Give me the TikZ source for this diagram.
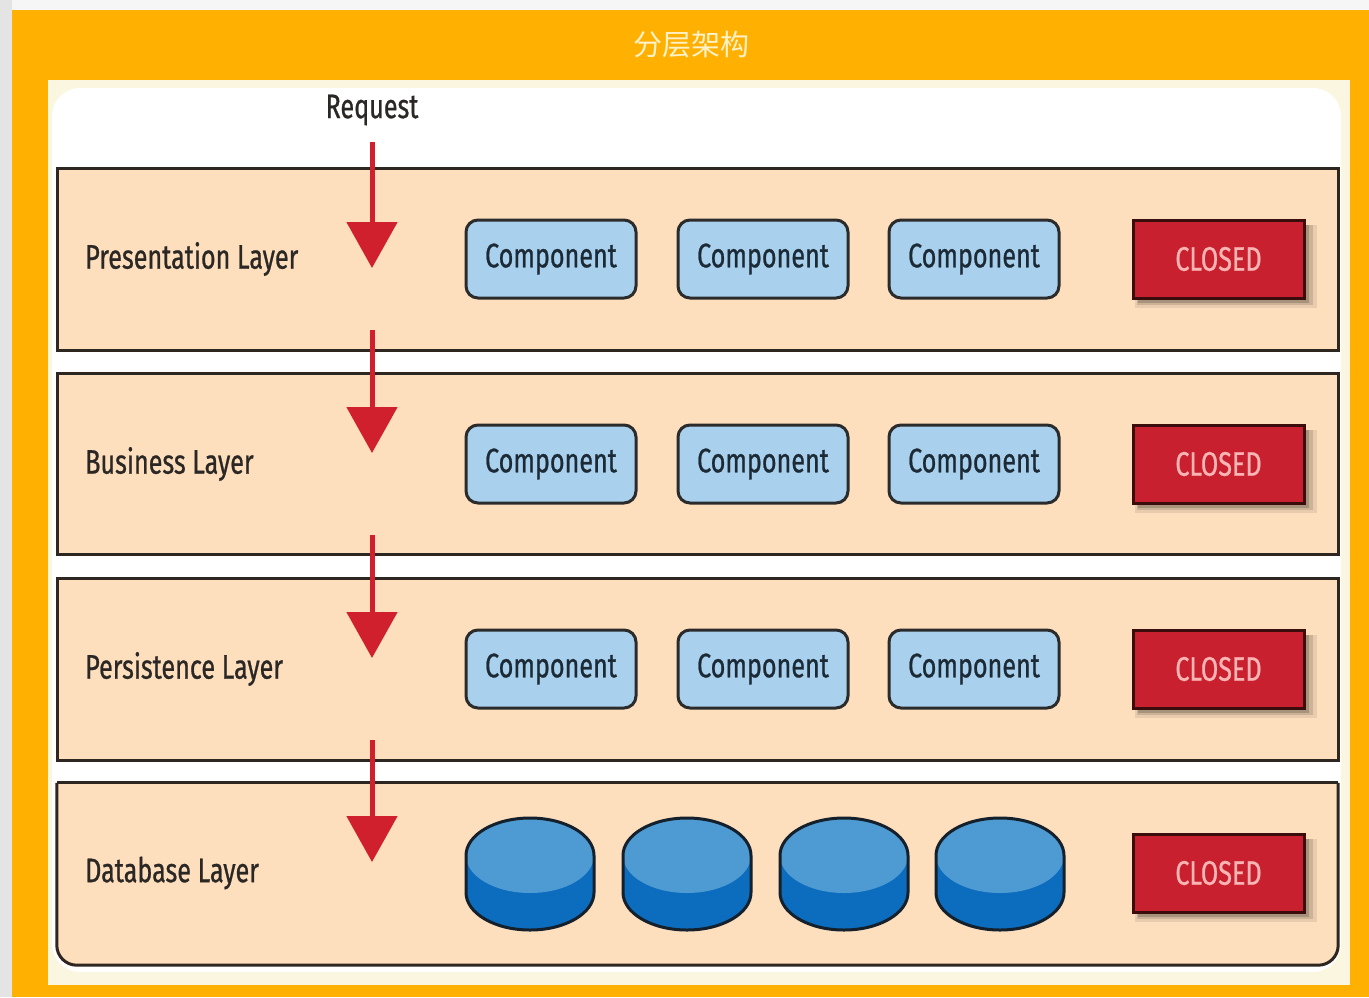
\documentclass[tikz,border=0pt]{standalone}
\usepackage{fontspec}
\setmainfont{Fira Sans}[FakeStretch=0.76]
\newfontfamily\labelfont{Fira Sans}[FakeStretch=0.74, FakeBold=0.7]
\newfontfamily\cjkfont{Noto Sans CJK SC}
\usetikzlibrary{arrows.meta,shadows}

\definecolor{pageback}{HTML}{F6F6F6}
\definecolor{leftstrip}{HTML}{E4E4E4}
\definecolor{frameorange}{HTML}{FFB000}
\definecolor{titletext}{HTML}{FFF2C8}
\definecolor{panelcream}{HTML}{FBF6DF}
\definecolor{layerfill}{HTML}{FDDEBD}
\definecolor{layerline}{HTML}{2E2620}
\definecolor{compfill}{HTML}{A9D1EE}
\definecolor{compline}{HTML}{2B2B2B}
\definecolor{comptext}{HTML}{1C2A36}
\definecolor{closedfill}{HTML}{C9202F}
\definecolor{closedline}{HTML}{3A0C0C}
\definecolor{closedtext}{HTML}{F9B4B4}
\definecolor{arrowred}{HTML}{D0202D}
\definecolor{dbtop}{HTML}{4E9AD2}
\definecolor{dbside}{HTML}{0C6DBE}
\definecolor{dbline}{HTML}{14202C}
\definecolor{inktext}{HTML}{2A2724}

\tikzset{
  textface/.style={font=\labelfont\fontsize{34}{34}\selectfont},
  layerbox/.style={draw=layerline, line width=3pt, fill=layerfill,
    minimum width=1281pt, inner sep=0pt},
  layerlabel/.style={anchor=west, inner sep=0pt, text=inktext, textface},
  compbox/.style={draw=compline, line width=3pt, fill=compfill,
    rounded corners=12pt, minimum width=170pt, minimum height=78pt,
    inner sep=0pt, text=comptext, textface},
  closedbox/.style={draw=closedline, line width=3pt, fill=closedfill,
    minimum width=171pt, minimum height=78pt, inner sep=0pt,
    text=closedtext, textface,
    drop shadow={shadow xshift=7pt, shadow yshift=-7pt, opacity=0.08,
      shadow scale=1.06, fill=black},
    drop shadow={shadow xshift=6pt, shadow yshift=-6pt, opacity=0.12,
      shadow scale=1.03, fill=black},
    drop shadow={shadow xshift=5pt, shadow yshift=-5pt, opacity=0.18,
      fill=black}},
  reqarrow/.style={draw=arrowred, line width=5pt,
    -{Triangle[length=46pt, width=50pt]}},
}

\begin{document}
\begin{tikzpicture}[x=1pt, y=-1pt]
\useasboundingbox (0,0) rectangle (1369,997);

% page, frame and title bar
\fill[pageback] (0,0) rectangle (1369,997);
\fill[leftstrip] (0,0) rectangle (12,997);
\fill[frameorange] (12,10) rectangle (1369,997);
\node[text=titletext, font=\cjkfont\fontsize{29}{29}\selectfont] (title)
  at (691,45) {分层架构};

% content panel
\fill[panelcream] (48,80) rectangle (1350,985);
\fill[white, rounded corners=28pt] (52,88) rectangle (1341,972);

% the four layers
\node[layerbox, minimum height=182pt] (pres) at (697.5,259) {};
\node[layerbox, minimum height=181pt] (bus)  at (697.5,463.5) {};
\node[layerbox, minimum height=182pt] (pers) at (697.5,669) {};
\node[minimum width=1281pt, minimum height=182pt, inner sep=0pt] (db)
  at (697.5,874) {};
\fill[layerfill, rounded corners=20pt]
  (db.north west) [sharp corners] -- (db.north east)
  [rounded corners=20pt] -- (db.south east) -- (db.south west)
  [sharp corners] -- cycle;
\draw[layerline, line width=3pt, rounded corners=20pt]
  (db.north east) -- (db.south east) -- (db.south west) -- (db.north west);
\draw[layerline, line width=3pt] (db.north west) -- (db.north east);

\node[layerlabel] (lpres) at (85,259) {Presentation Layer};
\node[layerlabel] (lbus)  at (85,464) {Business Layer};
\node[layerlabel] (lpers) at (85,669) {Persistence Layer};
\node[layerlabel] (ldb)   at (85,873) {Database Layer};

% request flow
\node[inner sep=0pt, text=inktext, textface] (req) at (372,110) {Request};
\coordinate (a1s) at (372,142); \coordinate (a1e) at (372,268);
\coordinate (a2s) at (372,330); \coordinate (a2e) at (372,453);
\coordinate (a3s) at (372,535); \coordinate (a3e) at (372,658);
\coordinate (a4s) at (372,740); \coordinate (a4e) at (372,862);
\draw[reqarrow] (a1s) -- (a1e);
\draw[reqarrow] (a2s) -- (a2e);
\draw[reqarrow] (a3s) -- (a3e);
\draw[reqarrow] (a4s) -- (a4e);

% components
\node[compbox] (p1) at (551,259) {Component};
\node[compbox] (p2) at (763,259) {Component};
\node[compbox] (p3) at (974,259) {Component};
\node[compbox] (b1) at (551,464) {Component};
\node[compbox] (b2) at (763,464) {Component};
\node[compbox] (b3) at (974,464) {Component};
\node[compbox] (s1) at (551,669) {Component};
\node[compbox] (s2) at (763,669) {Component};
\node[compbox] (s3) at (974,669) {Component};

% closed markers
\node[closedbox] (cp) at (1218.5,259) {CLOSED};
\node[closedbox] (cb) at (1218.5,464) {CLOSED};
\node[closedbox] (cs) at (1218.5,669) {CLOSED};
\node[closedbox] (cd) at (1218.5,873) {CLOSED};

% databases
\foreach \cx in {530,687,844,1000} {
  \fill[dbside] ({\cx-64},857) -- ({\cx-64},892.5)
    arc[start angle=180, end angle=360, x radius=64pt, y radius=37.5pt]
    -- ({\cx+64},857) -- cycle;
  \fill[dbtop] (\cx,855.5) ellipse [x radius=64pt, y radius=37.5pt];
  \draw[dbline, line width=3pt] ({\cx-64},855.5)
    arc[start angle=180, end angle=0, x radius=64pt, y radius=37.5pt]
    -- ({\cx+64},892.5)
    arc[start angle=0, end angle=-180, x radius=64pt, y radius=37.5pt]
    -- cycle;
}
\end{tikzpicture}
\end{document}
